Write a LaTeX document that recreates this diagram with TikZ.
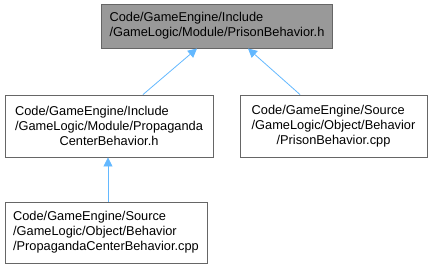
\documentclass[tikz,border=0pt]{standalone}
\usepackage{fontspec}
\setmainfont{Liberation Sans}
\usetikzlibrary{arrows.meta,positioning}
\usetikzlibrary{calc}

\definecolor{edgeblue}{HTML}{63B8FF}
\definecolor{boxline}{HTML}{666666}
\definecolor{boxgray}{HTML}{999999}

\tikzset{
  file/.style={draw=boxline,fill=white,line width=0.9pt,inner sep=0pt,
    font=\fontsize{12.8}{15}\selectfont,align=left},
  topfile/.style={file,fill=boxgray},
  dep/.style={draw=edgeblue,line width=0.8pt,-{Triangle[length=9pt,width=9pt]}}
}

\begin{document}
\begin{tikzpicture}[x=1pt,y=-1pt]
\useasboundingbox (0,0) rectangle (434,267);

% the header and the files that include it
\node[topfile,minimum width=231,minimum height=44] (prison_h) at (217,26)
  {Code/GameEngine/Include\\/GameLogic/Module/PrisonBehavior.h};
\node[file,minimum width=208,minimum height=62] (propaganda_h) at (109,126)
  {Code/GameEngine/Include\\/GameLogic/Module/Propaganda\\
   \hspace*{\fill}CenterBehavior.h\hspace*{\fill}};
\node[file,minimum width=187,minimum height=62] (prison_cpp) at (333.5,126)
  {Code/GameEngine/Source\\/GameLogic/Object/Behavior\\
   \hspace*{\fill}/PrisonBehavior.cpp\hspace*{\fill}};
\node[file,minimum width=202,minimum height=61] (propaganda_cpp) at (106,232.5)
  {Code/GameEngine/Source\\/GameLogic/Object/Behavior\\/PropagandaCenterBehavior.cpp};

% include edges
\draw[dep] ($(propaganda_h.north)+(34,0)$) -- ($(prison_h.south)+(-20,0)$);
\draw[dep] ($(prison_cpp.north)+(-33.5,0)$) -- ($(prison_h.south)+(31,0)$);
\draw[dep] ($(propaganda_cpp.north)+(2,0)$) -- ($(propaganda_h.south)+(-1,0)$);

\end{tikzpicture}
\end{document}
